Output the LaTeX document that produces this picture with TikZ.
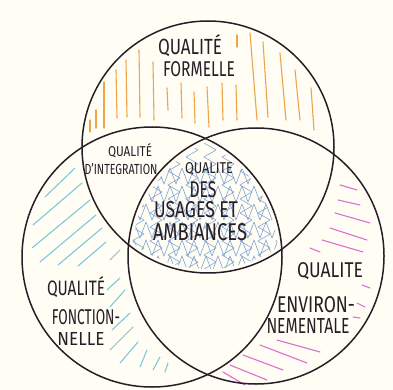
\documentclass[tikz,border=0pt]{standalone}
\usepackage{fontspec}
\usepackage{graphicx}
\setmainfont{Fira Sans}
\definecolor{bgc}{RGB}{255,253,244}
\definecolor{ink}{RGB}{38,30,38}
\definecolor{hor}{RGB}{238,164,72}
\definecolor{hcy}{RGB}{112,200,218}
\definecolor{hmg}{RGB}{218,112,208}
\definecolor{hbl}{RGB}{128,165,212}
\newcommand\hw[3]{\resizebox{#1pt}{#2pt}{#3}}
\tikzset{
  ring/.style={draw=ink, line width=1.5pt},
  orstroke/.style={draw=hor, line width=1.1pt, line cap=round},
  cystroke/.style={draw=hcy, line width=1pt, line cap=round},
  mgstroke/.style={draw=hmg, line width=1.1pt, line cap=round},
  blstroke/.style={draw=hbl, line width=0.6pt, line join=round},
  lbl/.style={inner sep=0pt, anchor=base, text=ink}
}
\begin{document}
\begin{tikzpicture}[x=1pt,y=-1pt]
\fill[bgc] (0,0) rectangle (393,390);
\useasboundingbox (0,0) rectangle (393,390);
\coordinate (cT) at (208,147);
\coordinate (cL) at (152,257);
\coordinate (cR) at (256,256);

% orange strokes (top only)
\foreach \xa/\ya/\xb/\yb in {90/120/90/132, 96/110/96/128, 104/82/104/128, 116/70/117/118,
  126/60/127/117, 139/50/140/117, 153/62/154/120, 167/88/168/110, 181/83/182/118,
  194/92/195/123, 207/87/209/127, 222/83/223/120, 236/85/237/120, 237/35/237/47,
  250/33/257/120, 263/42/268/117, 280/53/286/120, 295/70/300/120, 311/88/314/130}
  \draw[orstroke] (\xa,\ya) -- (\xb,\yb);

% cyan strokes (left only)
\foreach \xa/\ya/\xb/\yb in {45/197/75/168, 33/225/82/183, 32/248/90/200, 40/262/96/215,
  58/265/102/228, 78/266/106/242, 110/260/120/250, 107/290/120/278, 110/307/125/290,
  112/330/130/313, 110/350/133/327, 120/363/138/342, 140/367/147/350, 153/370/160/357,
  165/372/168/363}
  \draw[cystroke] (\xa,\ya) -- (\xb,\yb);

% magenta strokes (right only)
\foreach \xa/\ya/\xb/\yb in {340/185/357/190, 338/200/360/205, 335/213/370/223, 330/228/367/240,
  322/240/363/252, 310/248/320/252, 362/285/370/288, 357/303/365/307, 353/317/360/318,
  277/340/320/352, 260/345/307/363, 243/355/283/370, 230/365/267/380, 223/372/245/385}
  \draw[mgstroke] (\xa,\ya) -- (\xb,\yb);

% blue cross-hatching (centre)
\begin{scope}
  \clip (cT) circle[radius=122pt];
  \clip (cL) circle[radius=126pt];
  \clip (cR) circle[radius=124pt];
  \foreach \y in {176,194,212,230,248,264}
    \draw[blstroke] (128,\y) foreach \i in {1,...,27} {-- ({128+6*\i},{\y+ifthenelse(isodd(\i),-8,8)})};
  \foreach \x in {138,156,174,192,210,228,246,264,282}
    \draw[blstroke] (\x,136) foreach \j in {1,...,21} {-- ({\x+ifthenelse(isodd(\j),-6,6)},{136+7*\j})};
\end{scope}

% circles
\draw[ring] (cT) circle[radius=126pt];
\draw[ring] (cL) circle[radius=130pt];
\draw[ring] (cR) circle[radius=128pt];

% labels
\node[lbl] (f1) at (190,55) {\hw{64}{20}{QUALITÉ}};
\node[lbl] (f2) at (199,77) {\hw{72}{15}{FORMELLE}};
\node[lbl] (i1) at (130,157) {\hw{44}{13}{QUALITÉ}};
\node[lbl] (i2) at (121,175) {\hw{73}{11}{D'INTEGRATION}};
\node[lbl] (u1) at (209,173) {\hw{48}{11}{QUALITE}};
\node[lbl] (u2) at (203,197) {\hw{27}{16}{DES}};
\node[lbl] (u3) at (196,218) {\hw{84}{16}{USAGES ET}};
\node[lbl] (u4) at (200,240) {\hw{94}{17}{AMBIANCES}};
\node[lbl] (n1) at (76,295) {\hw{58}{19}{QUALITÉ}};
\node[lbl] (n2) at (86,324) {\hw{68}{15}{FONCTION-}};
\node[lbl] (n3) at (81,345) {\hw{47}{13}{NELLE}};
\node[lbl] (e1) at (330,277) {\hw{66}{15}{QUALITE}};
\node[lbl] (e2) at (316,312) {\hw{78}{16}{ENVIRON-}};
\node[lbl] (e3) at (308,333) {\hw{83}{15}{NEMENTALE}};
\end{tikzpicture}
\end{document}
